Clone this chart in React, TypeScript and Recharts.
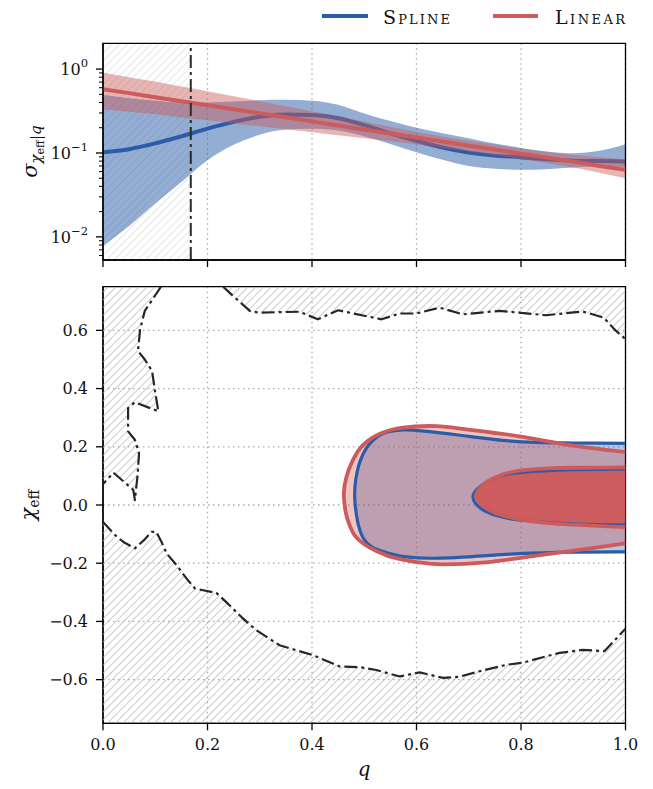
import React from 'react';
import {
  ComposedChart,
  ScatterChart,
  Scatter,
  Area,
  Line,
  XAxis,
  YAxis,
  CartesianGrid,
  ReferenceArea,
  ReferenceLine,
} from 'recharts';

// ---------------- data ----------------
const qValues = [0, 0.05, 0.1, 0.15, 0.2, 0.25, 0.3, 0.35, 0.4, 0.45, 0.5, 0.55, 0.6, 0.65, 0.7, 0.75, 0.8, 0.85, 0.9, 0.95, 1.0];
const splineMedian = [0.102, 0.111, 0.13, 0.158, 0.195, 0.235, 0.27, 0.288, 0.283, 0.26, 0.215, 0.172, 0.14, 0.116, 0.101, 0.093, 0.089, 0.084, 0.081, 0.08, 0.079];
const splineLower = [0.0078, 0.0135, 0.025, 0.045, 0.082, 0.125, 0.165, 0.19, 0.195, 0.185, 0.158, 0.128, 0.102, 0.083, 0.07, 0.065, 0.063, 0.064, 0.067, 0.069, 0.068];
const splineUpper = [0.49, 0.45, 0.42, 0.4, 0.4, 0.41, 0.425, 0.43, 0.42, 0.375, 0.295, 0.24, 0.2, 0.172, 0.15, 0.13, 0.115, 0.104, 0.099, 0.106, 0.127];
const linearMedian = [0.577, 0.517, 0.463, 0.414, 0.371, 0.332, 0.297, 0.266, 0.238, 0.213, 0.191, 0.171, 0.153, 0.137, 0.122, 0.11, 0.098, 0.088, 0.079, 0.07, 0.063];
const linearLower = [0.33, 0.31, 0.29, 0.265, 0.245, 0.225, 0.208, 0.192, 0.177, 0.163, 0.15, 0.138, 0.127, 0.115, 0.104, 0.094, 0.085, 0.076, 0.067, 0.058, 0.05];
const linearUpper = [0.91, 0.8, 0.71, 0.62, 0.545, 0.475, 0.415, 0.36, 0.315, 0.272, 0.237, 0.205, 0.178, 0.157, 0.14, 0.126, 0.113, 0.103, 0.095, 0.089, 0.084];

const qCut = 0.168; // lower limit on q (hatched below)

const xTicks = [0, 0.2, 0.4, 0.6, 0.8, 1.0];
const logMajorTicks = [0.01, 0.1, 1];
const logMinorTicks = [0.006, 0.007, 0.008, 0.009, 0.02, 0.03, 0.04, 0.05, 0.06, 0.07, 0.08, 0.09, 0.2, 0.3, 0.4, 0.5, 0.6, 0.7, 0.8, 0.9];
const chiTicks = [-0.6, -0.4, -0.2, 0, 0.2, 0.4, 0.6];

// excluded-region contour (dash-dot), bottom panel
const leftContour = [
  [0.111, 0.75], [0.08, 0.667], [0.071, 0.603], [0.067, 0.529], [0.08, 0.5], [0.094, 0.46], [0.099, 0.397],
  [0.106, 0.322], [0.061, 0.353], [0.048, 0.333], [0.048, 0.253], [0.061, 0.224], [0.069, 0.178],
  [0.066, 0.098], [0.061, 0.017], [0.058, 0.052], [0.02, 0.111], [0.0, 0.072],
];
const upperContour = [
  [0.23, 0.75], [0.249, 0.718], [0.281, 0.667], [0.297, 0.661], [0.376, 0.664], [0.411, 0.638], [0.45, 0.669],
  [0.533, 0.638], [0.568, 0.658], [0.6, 0.658], [0.644, 0.678], [0.689, 0.655], [0.759, 0.667], [0.848, 0.652],
  [0.918, 0.665], [0.958, 0.644], [0.982, 0.598], [1.0, 0.57],
];
const lowerContour = [
  [0.0, -0.058], [0.023, -0.103], [0.039, -0.127], [0.061, -0.149], [0.08, -0.118], [0.093, -0.092], [0.102, -0.092],
  [0.112, -0.127], [0.122, -0.167], [0.141, -0.207], [0.16, -0.253], [0.176, -0.287], [0.217, -0.302], [0.239, -0.339],
  [0.265, -0.385], [0.294, -0.431], [0.338, -0.482], [0.402, -0.516], [0.434, -0.54], [0.453, -0.555], [0.491, -0.557],
  [0.523, -0.567], [0.568, -0.589], [0.606, -0.575], [0.651, -0.594], [0.682, -0.59], [0.721, -0.571], [0.772, -0.549],
  [0.803, -0.542], [0.842, -0.523], [0.874, -0.508], [0.918, -0.498], [0.96, -0.502], [1.0, -0.425],
];

// 2D credible regions (q, chi_eff)
const splineOuter = [
  [1.0, 0.212], [0.9, 0.213], [0.829, 0.215], [0.765, 0.222], [0.7, 0.236], [0.625, 0.252], [0.575, 0.258],
  [0.535, 0.245], [0.508, 0.205], [0.492, 0.15], [0.484, 0.09], [0.4816, 0.035], [0.484, -0.02], [0.489, -0.07],
  [0.4985, -0.115], [0.515, -0.145], [0.542, -0.163], [0.58, -0.178], [0.625, -0.183], [0.7, -0.178],
  [0.797, -0.167], [0.9, -0.162], [1.0, -0.161],
];
const linearOuter = [
  [1.0, 0.182], [0.9, 0.204], [0.797, 0.236], [0.7, 0.259], [0.638, 0.271], [0.574, 0.266], [0.53, 0.245],
  [0.497, 0.205], [0.477, 0.15], [0.465, 0.09], [0.461, 0.04], [0.464, -0.02], [0.471, -0.065], [0.482, -0.105],
  [0.5, -0.135], [0.523, -0.158], [0.555, -0.18], [0.6, -0.196], [0.65, -0.204], [0.733, -0.197], [0.829, -0.174],
  [0.925, -0.151], [1.0, -0.132],
];
const splineInner = [
  [1.0, 0.123], [0.9, 0.121], [0.8, 0.112], [0.76, 0.1], [0.735, 0.08], [0.716, 0.055], [0.708, 0.03],
  [0.713, 0.005], [0.73, -0.02], [0.76, -0.04], [0.8, -0.052], [0.9, -0.064], [1.0, -0.069],
];
const linearInner = [
  [1.0, 0.129], [0.93, 0.128], [0.861, 0.127], [0.797, 0.118], [0.765, 0.105], [0.74, 0.085], [0.722, 0.06],
  [0.714, 0.033], [0.72, 0.01], [0.735, -0.012], [0.753, -0.029], [0.797, -0.049], [0.861, -0.063], [0.93, -0.07],
  [1.0, -0.076],
];

const topTable = qValues.map((q, i) => ({
  q,
  spBand: [splineLower[i], splineUpper[i]],
  spMed: splineMedian[i],
  liBand: [linearLower[i], linearUpper[i]],
  liMed: linearMedian[i],
}));

const toXY = (arr: number[][]) => arr.map(([x, y]) => ({ x, y }));

// ---------------- styling ----------------
const FONT = '"DejaVu Serif", "Liberation Serif", serif';
const BLUE = '#2a5ca8';
const RED = '#cd5b5b';
const INK = '#111';
const GRID = '#ababab';
const DASHDOT = '13 4 3 4';
const W = 653;
const TS = 7;
const TM = 8;
const TICK_FS = 16;

const NoShape = () => <g />;
const EmptyTick = () => <g />;

function pathFrom(pts: { x: number; y: number }[], smooth: boolean) {
  if (!smooth) return pts.map((p, i) => `${i ? 'L' : 'M'}${p.x},${p.y}`).join(' ');
  let d = `M${pts[0].x},${pts[0].y}`;
  for (let i = 0; i < pts.length - 1; i++) {
    const p0 = pts[i - 1] || pts[i];
    const p1 = pts[i];
    const p2 = pts[i + 1];
    const p3 = pts[i + 2] || p2;
    const c1x = p1.x + (p2.x - p0.x) / 6;
    const c1y = p1.y + (p2.y - p0.y) / 6;
    const c2x = p2.x - (p3.x - p1.x) / 6;
    const c2y = p2.y - (p3.y - p1.y) / 6;
    d += ` C${c1x},${c1y} ${c2x},${c2y} ${p2.x},${p2.y}`;
  }
  return d;
}

type RingStyle = {
  fill?: string;
  fillOpacity?: number;
  stroke?: string;
  strokeWidth?: number;
  dash?: string;
  smooth?: boolean;
  close?: boolean;
};
const ring = (s: RingStyle) => (p: any) => {
  const pts = (p && p.points) || [];
  if (pts.length < 2) return <g />;
  const d = pathFrom(pts, !!s.smooth) + (s.close ? ' Z' : '');
  return (
    <path
      d={d}
      fill={s.fill || 'none'}
      fillOpacity={s.fillOpacity === undefined ? 1 : s.fillOpacity}
      stroke={s.stroke || 'none'}
      strokeWidth={s.strokeWidth || 0}
      strokeDasharray={s.dash}
      strokeLinejoin="round"
    />
  );
};

function LogYTick(props: any) {
  const { x, y, payload } = props;
  const v = payload.value;
  const lg = Math.log10(v);
  const isMajor = Math.abs(lg - Math.round(lg)) < 1e-6;
  const ax = x + TS + TM;
  const len = isMajor ? TS : 4;
  const exp = Math.round(lg);
  return (
    <g>
      <line x1={ax - len} x2={ax} y1={y} y2={y} stroke="#000" strokeWidth={isMajor ? 1.3 : 1} />
      {isMajor && (
        <text x={x} y={y} dy={6} textAnchor="end" fontFamily={FONT} fontSize={TICK_FS} fill={INK}>
          10
          <tspan dy={-8} fontSize={11.5}>
            {exp < 0 ? '\u2212' + -exp : String(exp)}
          </tspan>
        </text>
      )}
    </g>
  );
}

const fmt1 = (v: number) => {
  if (Math.abs(v) < 1e-9) return '0.0';
  return v < 0 ? '\u2212' + Math.abs(v).toFixed(1) : v.toFixed(1);
};

const SigmaLabel = (p: any) => {
  const vb = p.viewBox || { x: 0, y: 0, width: 103, height: 200 };
  const cx = vb.x + 37;
  const cy = vb.y + vb.height / 2;
  return (
    <text transform={`rotate(-90 ${cx} ${cy})`} x={cx} y={cy} textAnchor="middle" fontFamily={FONT} fill={INK}>
      <tspan fontStyle="italic" fontSize={21}>σ</tspan>
      <tspan fontStyle="italic" fontSize={15} dy={4}>χ</tspan>
      <tspan fontSize={11} dy={3}>eff</tspan>
      <tspan fontSize={15} dy={-3}>|</tspan>
      <tspan fontStyle="italic" fontSize={15}>q</tspan>
    </text>
  );
};

const ChiLabel = (p: any) => {
  const vb = p.viewBox || { x: 0, y: 0, width: 103, height: 400 };
  const cx = vb.x + 35;
  const cy = vb.y + vb.height / 2;
  return (
    <text transform={`rotate(-90 ${cx} ${cy})`} x={cx} y={cy} textAnchor="middle" fontFamily={FONT} fill={INK}>
      <tspan fontStyle="italic" fontSize={21}>χ</tspan>
      <tspan fontSize={14} dy={4}>eff</tspan>
    </text>
  );
};

const QLabel = (p: any) => {
  const vb = p.viewBox || { x: 103, y: 453, width: 522, height: 60 };
  return (
    <text x={vb.x + vb.width / 2} y={vb.y + 53} textAnchor="middle" fontFamily={FONT} fontStyle="italic" fontSize={20} fill={INK}>
      q
    </text>
  );
};

export default function App() {
  return (
    <div style={{ position: 'absolute', left: 0, top: 0, width: W, height: 789, background: '#fff' }}>
      <svg width={0} height={0} style={{ position: 'absolute' }}>
        <defs>
          <pattern id="hatchDark" patternUnits="userSpaceOnUse" width={5.5} height={5.5} patternTransform="rotate(45)">
            <line x1={0} y1={0} x2={0} y2={5.5} stroke="#b3b3b3" strokeWidth={1.35} />
          </pattern>
          <pattern id="hatchLight" patternUnits="userSpaceOnUse" width={5.5} height={5.5} patternTransform="rotate(45)">
            <line x1={0} y1={0} x2={0} y2={5.5} stroke="#d8d8d8" strokeWidth={1.25} />
          </pattern>
        </defs>
      </svg>

      {/* legend */}
      <svg width={W} height={40} style={{ position: 'absolute', left: 0, top: 0 }}>
        <line x1={322} x2={368} y1={16} y2={16} stroke={BLUE} strokeWidth={4} />
        <text x={383} y={24} fontFamily={FONT} fontSize={19} fill={INK} style={{ fontVariant: 'small-caps' }} textLength={67} lengthAdjust="spacing">
          Spline
        </text>
        <line x1={493} x2={538} y1={16} y2={16} stroke={RED} strokeWidth={4} />
        <text x={555} y={24} fontFamily={FONT} fontSize={19} fill={INK} style={{ fontVariant: 'small-caps' }} textLength={70} lengthAdjust="spacing">
          Linear
        </text>
      </svg>

      {/* top panel */}
      <div style={{ position: 'absolute', left: 0, top: 0 }}>
        <ComposedChart width={W} height={285} data={topTable} margin={{ top: 43.3, right: 27.5, left: 0, bottom: 5 }}>
          <CartesianGrid
            stroke={GRID}
            strokeDasharray="1.5 3.5"
            strokeWidth={1.3}
            horizontalCoordinatesGenerator={(g: any) => {
              const s = g && g.yAxis && g.yAxis.scale;
              return typeof s === 'function' ? logMajorTicks.map((v) => s(v)) : [];
            }}
          />
          <XAxis
            dataKey="q"
            type="number"
            domain={[0, 1]}
            ticks={xTicks}
            allowDataOverflow
            tick={EmptyTick}
            tickSize={TS}
            height={20}
            axisLine={{ stroke: '#000', strokeWidth: 1.3 }}
            tickLine={{ stroke: '#000', strokeWidth: 1.3 }}
          />
          <YAxis
            type="number"
            scale="log"
            domain={[0.0053, 2.03]}
            allowDataOverflow
            ticks={[...logMinorTicks, ...logMajorTicks]}
            interval={0}
            tick={LogYTick}
            tickLine={false}
            tickSize={TS}
            tickMargin={TM}
            width={103}
            axisLine={{ stroke: '#000', strokeWidth: 1.3 }}
            label={{ content: SigmaLabel }}
          />
          <ReferenceArea x1={0} x2={qCut} fill="url(#hatchLight)" fillOpacity={1} stroke="none" ifOverflow="hidden" />
          <Area dataKey="spBand" type="monotone" fill={BLUE} fillOpacity={0.5} stroke="none" isAnimationActive={false} />
          <Area dataKey="spMed" type="monotone" fill="none" stroke={BLUE} strokeWidth={4} isAnimationActive={false} />
          <Area dataKey="liBand" type="monotone" fill={RED} fillOpacity={0.45} stroke="none" isAnimationActive={false} />
          <Line dataKey="liMed" type="linear" stroke={RED} strokeWidth={4} dot={false} isAnimationActive={false} />
          <ReferenceLine x={qCut} stroke="#2b2b2b" strokeWidth={2} strokeDasharray={DASHDOT} />
          <ReferenceArea x1={0} x2={1} fill="none" stroke="#000" strokeWidth={1.3} ifOverflow="visible" />
        </ComposedChart>
      </div>

      {/* bottom panel */}
      <div style={{ position: 'absolute', left: 0, top: 270 }}>
        <ScatterChart width={W} height={519} margin={{ top: 16.7, right: 27.5, left: 0, bottom: 5.7 }}>
          <CartesianGrid stroke={GRID} strokeDasharray="1.5 3.5" strokeWidth={1.3} />
          <XAxis
            dataKey="x"
            type="number"
            domain={[0, 1]}
            ticks={xTicks}
            allowDataOverflow
            tickFormatter={fmt1}
            tick={{ fontFamily: FONT, fontSize: TICK_FS, fill: INK }}
            tickSize={TS}
            tickMargin={8}
            height={60}
            axisLine={{ stroke: '#000', strokeWidth: 1.3 }}
            tickLine={{ stroke: '#000', strokeWidth: 1.3 }}
            label={{ content: QLabel }}
          />
          <YAxis
            dataKey="y"
            type="number"
            domain={[-0.75, 0.75]}
            ticks={chiTicks}
            interval={0}
            allowDataOverflow
            tickFormatter={fmt1}
            tick={{ fontFamily: FONT, fontSize: TICK_FS, fill: INK }}
            tickSize={TS}
            tickMargin={TM}
            width={103}
            axisLine={{ stroke: '#000', strokeWidth: 1.3 }}
            tickLine={{ stroke: '#000', strokeWidth: 1.3 }}
            label={{ content: ChiLabel }}
          />
          {/* hatched excluded regions */}
          <Scatter data={toXY([[0, 0.75], ...leftContour])} shape={NoShape} line={ring({ fill: 'url(#hatchDark)', close: true })} isAnimationActive={false} />
          <Scatter data={toXY([...upperContour, [1, 0.75]])} shape={NoShape} line={ring({ fill: 'url(#hatchDark)', close: true })} isAnimationActive={false} />
          <Scatter data={toXY([[0, -0.75], ...lowerContour, [1, -0.75]])} shape={NoShape} line={ring({ fill: 'url(#hatchDark)', close: true })} isAnimationActive={false} />
          {/* filled credible regions */}
          <Scatter data={toXY(splineOuter)} shape={NoShape} line={ring({ fill: BLUE, fillOpacity: 0.35, smooth: true, close: true })} isAnimationActive={false} />
          <Scatter data={toXY(linearOuter)} shape={NoShape} line={ring({ fill: RED, fillOpacity: 0.36, smooth: true, close: true })} isAnimationActive={false} />
          <Scatter data={toXY(linearInner)} shape={NoShape} line={ring({ fill: RED, fillOpacity: 0.97, smooth: true, close: true })} isAnimationActive={false} />
          {/* contour lines */}
          <Scatter data={toXY(splineOuter)} shape={NoShape} line={ring({ stroke: BLUE, strokeWidth: 3.2, smooth: true })} isAnimationActive={false} />
          <Scatter data={toXY(linearOuter)} shape={NoShape} line={ring({ stroke: RED, strokeWidth: 3.8, smooth: true })} isAnimationActive={false} />
          <Scatter data={toXY(splineInner)} shape={NoShape} line={ring({ stroke: BLUE, strokeWidth: 3, smooth: true })} isAnimationActive={false} />
          <Scatter data={toXY(linearInner)} shape={NoShape} line={ring({ stroke: RED, strokeWidth: 3.8, smooth: true })} isAnimationActive={false} />
          {/* dash-dot boundaries */}
          <Scatter data={toXY(leftContour)} shape={NoShape} line={ring({ stroke: '#262626', strokeWidth: 2.2, dash: DASHDOT })} isAnimationActive={false} />
          <Scatter data={toXY(upperContour)} shape={NoShape} line={ring({ stroke: '#262626', strokeWidth: 2.2, dash: DASHDOT })} isAnimationActive={false} />
          <Scatter data={toXY(lowerContour)} shape={NoShape} line={ring({ stroke: '#262626', strokeWidth: 2.2, dash: DASHDOT })} isAnimationActive={false} />
          <ReferenceArea x1={0} x2={1} y1={-0.75} y2={0.75} fill="none" stroke="#000" strokeWidth={1.3} ifOverflow="visible" />
        </ScatterChart>
      </div>
    </div>
  );
}
